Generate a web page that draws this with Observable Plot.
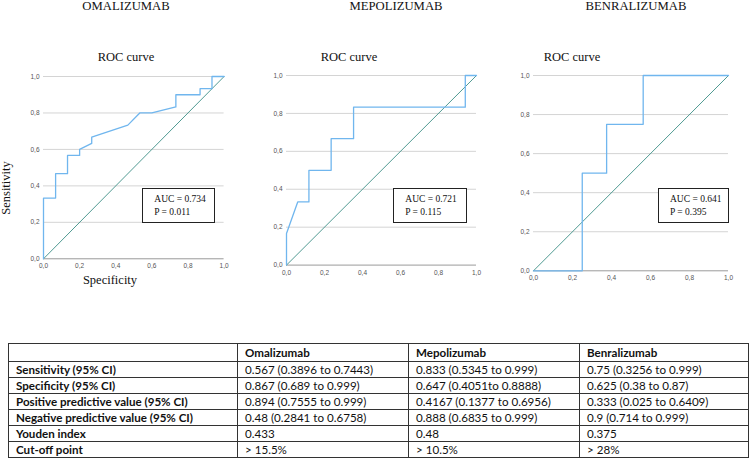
<!DOCTYPE html>
<html><head><meta charset="utf-8">
<script src="https://cdn.jsdelivr.net/npm/d3@7"></script>
<script src="https://cdn.jsdelivr.net/npm/@observablehq/plot@0.6"></script>
<style>
html,body{margin:0;padding:0;background:#fff;}
#wrap{position:relative;width:753px;height:458px;overflow:hidden;background:#fff;}
#wrap svg.plot{position:absolute;}
#overlay{position:absolute;left:0;top:0;}
.aucbox{position:absolute;border:1px solid #222;background:#fff;box-sizing:border-box;font-family:"Liberation Serif",serif;font-size:9.5px;color:#111;line-height:13px;padding:4px 0 0 11px;}
table{position:absolute;left:8px;top:343px;border-collapse:collapse;font-family:Lato,sans-serif;font-size:11.6px;color:#111;table-layout:fixed;}
td{border:1px solid #333;padding:0 0 0 7px;height:15px;white-space:nowrap;line-height:14px;overflow:hidden;}
tr.head td{height:17px;font-weight:bold;}
td.rowh{font-weight:bold;}
</style></head>
<body><div id="wrap"></div>
<script>
// ---- data ----
const drugs = ["OMALIZUMAB", "MEPOLIZUMAB", "BENRALIZUMAB"];
const tickValues = [0, 0.2, 0.4, 0.6, 0.8, 1.0];
const refLine = [[0, 0], [1, 1]];

const omaX = [0, 0, 0.067, 0.067, 0.133, 0.133, 0.2, 0.2, 0.267, 0.267, 0.467, 0.533, 0.6, 0.733, 0.733, 0.867, 0.867, 0.933, 0.933, 1];
const omaY = [0, 0.333, 0.333, 0.467, 0.467, 0.567, 0.567, 0.6, 0.633, 0.667, 0.733, 0.8, 0.8, 0.833, 0.9, 0.9, 0.933, 0.933, 1, 1];
const mepX = [0, 0, 0.059, 0.118, 0.118, 0.235, 0.235, 0.353, 0.353, 0.941, 0.941, 1];
const mepY = [0, 0.167, 0.333, 0.333, 0.5, 0.5, 0.667, 0.667, 0.833, 0.833, 1, 1];
const benX = [0, 0.25, 0.25, 0.375, 0.375, 0.5625, 0.5625, 1];
const benY = [0, 0, 0.5, 0.5, 0.75, 0.75, 1, 1];

const aucValues = ["0.734", "0.721", "0.641"];
const pValues = ["0.011", "0.115", "0.395"];

const tableHeader = ["", "Omalizumab", "Mepolizumab", "Benralizumab"];
const rowLabels = ["Sensitivity (95% CI)", "Specificity (95% CI)", "Positive predictive value (95% CI)", "Negative predictive value (95% CI)", "Youden index", "Cut-off point"];
const omaCol = ["0.567 (0.3896 to 0.7443)", "0.867 (0.689 to 0.999)", "0.894 (0.7555 to 0.999)", "0.48 (0.2841 to 0.6758)", "0.433", "> 15.5%"];
const mepCol = ["0.833 (0.5345 to 0.999)", "0.647 (0.4051to 0.8888)", "0.4167 (0.1377 to 0.6956)", "0.888 (0.6835 to 0.999)", "0.48", "> 10.5%"];
const benCol = ["0.75 (0.3256 to 0.999)", "0.625 (0.38 to 0.87)", "0.333 (0.025 to 0.6409)", "0.9 (0.714 to 0.999)", "0.375", "> 28%"];

// ---- layout ----
const frames = [
  {L: 42.7, R: 223.3, T: 76, B: 258.3, titleX: 126, rocX: 126, box: [142.3, 188.3, 73, 35]},
  {L: 286, R: 476, T: 74.7, B: 264.3, titleX: 396, rocX: 349, box: [393.3, 188.3, 74, 35]},
  {L: 533.3, R: 728.3, T: 74.7, B: 270, titleX: 636, rocX: 572, box: [658, 188, 71.3, 35]}
];
const series = [[omaX, omaY], [mepX, mepY], [benX, benY]];
const wrap = document.getElementById("wrap");
const fmt = d => d3.format(".1f")(d).replace(".", ",");
const ml = 24, mr = 12, mt = 8, mb = 16;

frames.forEach((f, i) => {
  const pts = series[i][0].map((x, k) => ({x, y: series[i][1][k]}));
  const ref = refLine.map(d => ({x: d[0], y: d[1]}));
  const svg = Plot.plot({
    width: (f.R - f.L) + ml + mr,
    height: (f.B - f.T) + mt + mb,
    marginLeft: ml, marginRight: mr, marginTop: mt, marginBottom: mb,
    style: {fontFamily: "Liberation Sans, Arial, sans-serif", fontSize: "6.5px", color: "#555", background: "transparent", overflow: "visible"},
    x: {domain: [0, 1], ticks: tickValues, tickFormat: fmt, tickSize: 0, tickPadding: 5, label: null},
    y: {domain: [0, 1], ticks: tickValues, tickFormat: fmt, tickSize: 0, tickPadding: 4, label: null},
    marks: [
      Plot.gridY(tickValues.slice(1), {stroke: "#d4d4d4", strokeOpacity: 1, strokeWidth: 1}),
      Plot.ruleY([0], {stroke: "#9a9a9a", strokeWidth: 1}),
      Plot.line(ref, {x: "x", y: "y", stroke: "#4f9a92", strokeWidth: 1}),
      Plot.line(pts, {x: "x", y: "y", stroke: "#70b6ee", strokeWidth: 1.3}),
      Plot.axisX({ticks: tickValues, tickFormat: fmt, tickSize: 0, tickPadding: 5, label: null}),
      Plot.axisY({ticks: tickValues, tickFormat: fmt, tickSize: 0, tickPadding: 4, label: null})
    ]
  });
  svg.classList.add("plot");
  svg.style.left = (f.L - ml) + "px";
  svg.style.top = (f.T - mt) + "px";
  wrap.appendChild(svg);

  const box = document.createElement("div");
  box.className = "aucbox";
  box.style.left = f.box[0] + "px";
  box.style.top = f.box[1] + "px";
  box.style.width = f.box[2] + "px";
  box.style.height = f.box[3] + "px";
  box.innerHTML = "AUC = " + aucValues[i] + "<br>P = " + pValues[i];
  wrap.appendChild(box);
});

// ---- overlay text ----
const ov = d3.select(wrap).append("svg").attr("id", "overlay").attr("width", 753).attr("height", 458)
  .style("font-family", "Liberation Serif, serif").style("fill", "#111");
frames.forEach((f, i) => {
  ov.append("text").attr("x", f.titleX).attr("y", 9.5).attr("text-anchor", "middle")
    .style("font-size", "12.7px").text(drugs[i]);
  ov.append("text").attr("x", f.rocX).attr("y", 61).attr("text-anchor", "middle")
    .style("font-size", "12.5px").text("ROC curve");
});
ov.append("text").attr("transform", "translate(10,188) rotate(-90)").attr("text-anchor", "middle")
  .style("font-size", "12.5px").text("Sensitivity");
ov.append("text").attr("x", 110).attr("y", 284).attr("text-anchor", "middle")
  .style("font-size", "12.5px").text("Specificity");

// ---- table ----
const table = d3.select(wrap).append("table");
const cg = table.append("colgroup");
[229, 171, 171, 169].forEach(w => cg.append("col").style("width", w + "px"));
const hr = table.append("tr").attr("class", "head");
tableHeader.forEach(h => hr.append("td").text(h));
rowLabels.forEach((r, k) => {
  const tr = table.append("tr");
  tr.append("td").attr("class", "rowh").text(r);
  tr.append("td").text(omaCol[k]);
  tr.append("td").text(mepCol[k]);
  tr.append("td").text(benCol[k]);
});
</script></body></html>
